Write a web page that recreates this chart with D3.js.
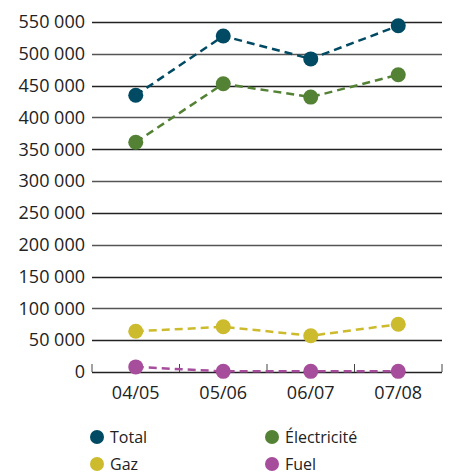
<!DOCTYPE html>
<html>
   <head>
      <meta charset="utf-8">
      <title>Consommation</title>
      <style>
         body { margin: 0; background: #fff; }
         text { font-family: "Open Sans", sans-serif; fill: #222; }
         .axis text { font-size: 18px; }
         .legend text { font-size: 16px; }
      </style>
      <script src="https://d3js.org/d3.v7.min.js"></script>
   </head>
   <body>
      <script>
         // data
         var years = ["04/05", "05/06", "06/07", "07/08"];
         var total = [435000, 528000, 492000, 544000];
         var electricite = [361000, 453000, 432000, 467000];
         var gaz = [64000, 71000, 57000, 75000];
         var fuel = [8000, 1000, 1000, 1000];
         var yTicks = [0, 50000, 100000, 150000, 200000, 250000, 300000,
                       350000, 400000, 450000, 500000, 550000];

         var w = 451, h = 474;
         var plotLeft = 92, plotRight = 442, plotTop = 22, plotBottom = 372;

         var series = [
           {name: "Total", values: total, color: "#004a63"},
           {name: "Électricité", values: electricite, color: "#548235"},
           {name: "Gaz", values: gaz, color: "#cdbb2e"},
           {name: "Fuel", values: fuel, color: "#a64d9c"}
         ];

         var svg = d3.select("body").append("svg")
                     .attr("width", w)
                     .attr("height", h);

         var x = d3.scaleBand().domain(years).range([plotLeft, plotRight]);
         var y = d3.scaleLinear().domain([0, 550000]).range([plotBottom, plotTop]);

         var fmt = function(d) { return d3.format(",")(d).replace(/,/g, " "); };

         // gridlines
         svg.append("g")
            .selectAll("line")
            .data(yTicks.slice(1))
            .enter().append("line")
            .attr("x1", plotLeft).attr("x2", plotRight)
            .attr("y1", function(d) { return Math.round(y(d)) + 0.5; })
            .attr("y2", function(d) { return Math.round(y(d)) + 0.5; })
            .attr("stroke", function(d, i) { return i % 2 ? "#555" : "#222"; })
            .attr("stroke-width", 1.3);

         // y axis labels
         var yAxis = svg.append("g")
            .attr("class", "axis")
            .attr("transform", "translate(" + plotLeft + ",0)")
            .call(d3.axisLeft(y).tickValues(yTicks).tickFormat(fmt).tickSize(0).tickPadding(7));
         yAxis.select(".domain").remove();
         yAxis.selectAll("text").attr("fill", "#222");

         // x axis with ticks pointing up
         var xAxis = svg.append("g")
            .attr("class", "axis")
            .attr("transform", "translate(0," + plotBottom + ")");
         xAxis.append("line")
            .attr("x1", plotLeft).attr("x2", plotRight)
            .attr("y1", 0.5).attr("y2", 0.5)
            .attr("stroke", "#222").attr("stroke-width", 1.3);
         var edges = years.map(function(d) { return x(d); }).concat([plotRight]);
         xAxis.selectAll(".tk")
            .data(edges)
            .enter().append("line")
            .attr("x1", function(d) { return d; }).attr("x2", function(d) { return d; })
            .attr("y1", 0).attr("y2", -8)
            .attr("stroke", "#444");
         xAxis.selectAll(".lbl")
            .data(years)
            .enter().append("text")
            .attr("x", function(d) { return x(d) + x.bandwidth() / 2; })
            .attr("y", 27)
            .attr("text-anchor", "middle")
            .text(function(d) { return d; });

         // lines and markers
         var line = d3.line()
            .x(function(d, i) { return x(years[i]) + x.bandwidth() / 2; })
            .y(function(d) { return y(d); });

         series.forEach(function(s) {
           svg.append("path")
              .datum(s.values)
              .attr("d", line)
              .attr("fill", "none")
              .attr("stroke", s.color)
              .attr("stroke-width", 2.5)
              .attr("stroke-dasharray", "8,5");
           svg.selectAll(null)
              .data(s.values)
              .enter().append("circle")
              .attr("cx", function(d, i) { return x(years[i]) + x.bandwidth() / 2; })
              .attr("cy", function(d) { return y(d); })
              .attr("r", 7.5)
              .attr("fill", s.color);
         });

         // legend
         var legend = svg.append("g").attr("class", "legend");
         var items = legend.selectAll("g")
            .data(series)
            .enter().append("g")
            .attr("transform", function(d, i) {
              return "translate(" + (i % 2 ? 272 : 97) + "," + (i < 2 ? 437 : 464) + ")";
            });
         items.append("circle").attr("r", 7).attr("fill", function(d) { return d.color; });
         items.append("text")
            .attr("x", 13)
            .attr("dy", "0.35em")
            .text(function(d) { return d.name; });
      </script>
   </body>
</html>
